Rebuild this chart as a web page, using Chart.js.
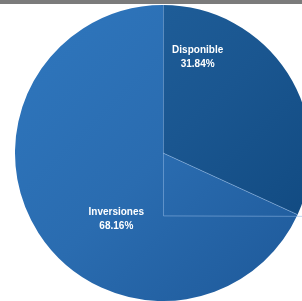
<!DOCTYPE html>
<html lang="es">
<head>
<meta charset="UTF-8">
<title>Disponible / Inversiones</title>
<script src="https://cdn.jsdelivr.net/npm/chart.js"></script>
<style>
html, body {
    margin: 0;
    padding: 0;
    width: 302px;
    height: 301px;
    overflow: hidden;
    background: #ffffff;
}
.topBar {
    position: absolute;
    left: 0;
    top: 0;
    width: 302px;
    height: 4px;
    background: #7b7b7b;
}
.chartBox {
    position: absolute;
    left: 15px;
    top: 5px;
    width: 296px;
    height: 296px;
}
</style>
</head>
<body>
<div class="topBar"></div>
<div class="chartBox"><canvas id="pieChart"></canvas></div>
<script>
// data
const categories = ['Disponible', 'Inversiones'];
const shares = [31.84, 68.16];
const shareLabels = ['31.84%', '68.16%'];

// label anchor per slice: angle (deg, 0 = right, clockwise) and distance as part of radius
const labelSpots = [{ angle: -70, dist: 0.685 }, { angle: 125, dist: 0.55 }];

const ctx = document.getElementById('pieChart').getContext('2d');

function sliceFill(context) {
    const chart = context.chart;
    const area = chart.chartArea;
    if (!area) return '#2e75b6';
    const g = chart.ctx.createLinearGradient(area.left, area.top, area.right, area.bottom);
    if (context.dataIndex === 0) {
        g.addColorStop(0, '#22639f');
        g.addColorStop(0.5, '#1a5690');
        g.addColorStop(1, '#0e467c');
    } else {
        g.addColorStop(0, '#2f77be');
        g.addColorStop(0.5, '#2a6cb0');
        g.addColorStop(1, '#1d5898');
    }
    return g;
}

const pieExtras = {
    id: 'pieExtras',
    afterDatasetsDraw(chart) {
        const c = chart.ctx;
        const arcs = chart.getDatasetMeta(0).data;
        const cx = arcs[0].x, cy = arcs[0].y, r = arcs[0].outerRadius;

        // thin light lines on slice edges and the leftover guide lines
        c.save();
        c.strokeStyle = 'rgba(140, 180, 225, 0.55)';
        c.lineWidth = 1;
        c.beginPath();
        c.moveTo(cx + 0.5, cy - r);
        c.lineTo(cx + 0.5, cy + r * 0.425);
        c.lineTo(cx + r, cy + r * 0.425 + 0.5);
        c.moveTo(cx, cy);
        c.lineTo(cx + r * Math.cos(arcs[0].endAngle), cy + r * Math.sin(arcs[0].endAngle));
        c.stroke();
        c.restore();

        // data labels
        c.save();
        c.fillStyle = '#ffffff';
        c.font = 'bold 10px "Liberation Sans", Arial, sans-serif';
        c.textAlign = 'center';
        c.textBaseline = 'middle';
        arcs.forEach((arc, i) => {
            const a = labelSpots[i].angle * Math.PI / 180;
            const x = cx + Math.cos(a) * r * labelSpots[i].dist;
            const y = cy + Math.sin(a) * r * labelSpots[i].dist;
            c.fillText(categories[i], x, y - 7);
            c.fillText(shareLabels[i], x, y + 7);
        });
        c.restore();
    }
};

new Chart(ctx, {
    type: 'pie',
    data: {
        labels: categories,
        datasets: [{
            data: shares,
            backgroundColor: sliceFill,
            borderWidth: 0
        }]
    },
    options: {
        responsive: true,
        maintainAspectRatio: false,
        animation: false,
        layout: { padding: 0 },
        plugins: {
            legend: { display: false },
            tooltip: { enabled: false }
        }
    },
    plugins: [pieExtras]
});
</script>
</body>
</html>
